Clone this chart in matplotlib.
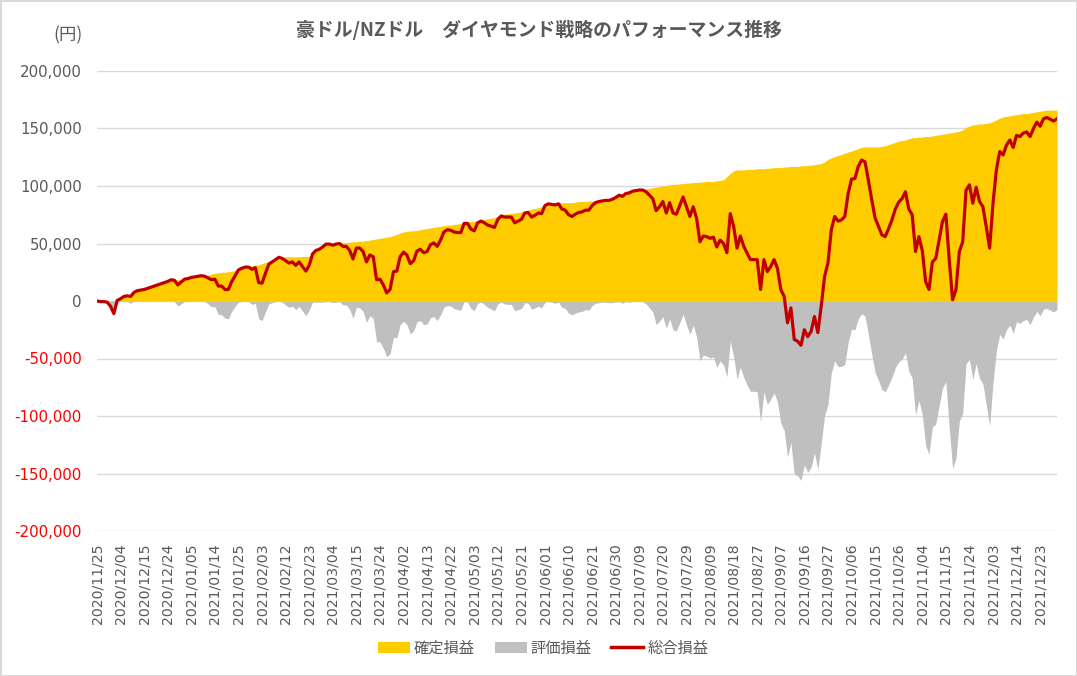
import numpy as np
import matplotlib
matplotlib.use("Agg")
import matplotlib.pyplot as plt
from matplotlib.patches import Patch
from matplotlib.lines import Line2D

JP = ['Noto Sans CJK JP', 'DejaVu Sans']
plt.rcParams['font.family'] = JP

title = "豪ドル/NZドル\u3000ダイヤモンド戦略のパフォーマンス推移"
unit_label = "(円)"
series_names = ["確定損益", "評価損益", "総合損益"]

tick_labels = ["2020/11/25", "2020/12/04", "2020/12/15", "2020/12/24", "2021/01/05",
               "2021/01/14", "2021/01/25", "2021/02/03", "2021/02/12", "2021/02/23",
               "2021/03/04", "2021/03/15", "2021/03/24", "2021/04/02", "2021/04/13",
               "2021/04/22", "2021/05/03", "2021/05/12", "2021/05/21", "2021/06/01",
               "2021/06/10", "2021/06/21", "2021/06/30", "2021/07/09", "2021/07/20",
               "2021/07/29", "2021/08/09", "2021/08/18", "2021/08/27", "2021/09/07",
               "2021/09/16", "2021/09/27", "2021/10/06", "2021/10/15", "2021/10/26",
               "2021/11/04", "2021/11/15", "2021/11/24", "2021/12/03", "2021/12/14",
               "2021/12/23"]

# 確定損益 (thousand yen), one value per trading day
confirmed_k = [
    0, 0, 0, 0, 0, 0, 1, 2.5, 4, 5,
    6, 7.5, 9, 9.5, 10, 11, 12, 13, 14, 15,
    16, 17, 18.5, 18.5, 18.5, 19, 19.5, 20, 20.5, 21,
    21.5, 22, 22, 22.5, 23.5, 24, 24.5, 25, 25, 25.5,
    26, 26.5, 28, 29, 29.5, 30, 30.5, 31, 31.5,
    32.5, 33.5, 34.5, 35.5, 36.5, 38, 38, 38.5, 38.5, 38.5,
    38.5, 38.5, 38.7, 38.7, 39, 42, 45, 46, 48, 50,
    50, 50, 50.5, 50.5, 51, 51, 51, 51.5, 51.5, 52,
    52, 52.5, 53, 53.5, 54, 54.5, 55, 55.5, 56, 57,
    58, 59, 60, 60.5, 61, 61, 61.5,
    62, 62.5, 63, 63.5, 64, 64.5, 65, 65.5, 66, 66,
    66.5, 67, 67.5, 68, 68.5, 69, 69.5, 70, 70.5, 71,
    71.5, 72, 72.5, 73.5, 75, 75.5, 76, 76, 76.5, 77,
    77.5, 78, 79, 80, 80.5, 81, 82, 84, 85, 85,
    85.5, 85.5, 85.5, 85.5, 85.5, 85.5, 86, 86.5,
    86.5, 86.5, 87, 87, 87.5, 88, 88, 88.5, 89, 90,
    91, 92.5, 93, 94, 95, 96, 96.5, 97, 97, 97.5,
    98, 98.5, 99, 99.5, 100, 100.5, 101, 101.5, 101.5, 102,
    102, 102.5, 102.5, 103, 103, 103.5, 103.5, 104, 104, 104,
    104.5, 105, 105.5, 108, 111, 113, 114,
    114, 114, 114.5, 114.5, 114.5, 115, 115, 115, 115.5, 115.5,
    116, 116, 116, 116.5, 116.5, 117, 117, 117, 117.5, 117.5,
    118, 118, 118.5, 119, 119.5, 121, 123, 124.5, 125.5, 126.5,
    127.5, 128.5, 129.5, 130.5, 131.5, 132.5, 133.5, 134, 134, 134,
    134, 134, 134.5, 135, 136, 137, 138, 139,
    139.5, 140, 141, 142, 142, 142.5, 142.5, 143, 143, 143.5,
    144, 144.5, 145, 145.5, 146, 146.5, 147, 147.5, 149, 151,
    152, 153, 153.5, 154, 154, 154.5, 155, 156, 157.5, 159,
    160, 160.5, 161, 161.5, 162, 162.5, 163, 163, 163.5, 164,
    164.5, 165, 165.5, 166, 166, 166, 166,
]

# 総合損益 (thousand yen)
total_k = [
    0, -0.5, -0.5, -1, -4.5, -11, 0.5, 2, 4, 4.5,
    4, 7.5, 9, 9.5, 10, 11, 12, 13, 14, 15,
    16, 17, 18.5, 18, 14, 16.5, 19, 19.5, 20.5, 21,
    21.5, 22, 21.5, 20, 18.5, 19, 13, 13, 10, 10,
    17, 22, 27, 28.5, 29.5, 29.5, 27.5, 29, 16,
    15.5, 24, 32, 34, 36, 38, 37, 35, 33, 34,
    31, 34, 30, 26, 31, 41, 44, 45, 47, 49.5,
    49.5, 48.5, 49.5, 50, 47.5, 47.5, 44, 36.5, 46, 46,
    43, 34, 40, 38.5, 18.5, 19, 14, 7, 10, 25.5,
    26, 38.5, 42.5, 40, 32.5, 35, 43.5,
    45, 42, 43, 49, 50.5, 47.5, 53, 60, 62, 61.5,
    60, 59.5, 59.5, 67.5, 67.5, 62.5, 61, 68, 69.5, 68,
    66, 65, 64, 71, 74, 73, 73, 73, 68, 69.5,
    71, 76.5, 77, 73, 74.5, 76.5, 76, 83, 84.5, 84,
    83.5, 84.5, 80, 79, 75, 73.5, 75.5, 77,
    77.5, 79, 79, 83, 85.5, 86.5, 87, 87.5, 87.5, 88.5,
    90, 92, 91, 93.5, 94, 95.5, 96, 96.5, 96.5, 95,
    92, 89, 78.5, 82, 86.5, 76.5, 85.5, 76.5, 75.5, 83,
    90.5, 82, 73.5, 82, 72, 51.5, 56.5, 56, 54.5, 55.5,
    47, 53, 50, 42, 76, 65, 46,
    56.5, 47.5, 41.5, 36, 36, 36, 10, 36, 25.5, 30,
    36, 28.5, 10, 4, -19, -6, -33.5, -35, -38.5, -25,
    -31, -26.5, -13.5, -27.5, -4.5, 21.5, 33, 62, 73.5, 69.5,
    70.5, 73.5, 93.5, 106, 106.5, 117, 122.5, 121, 105, 88,
    72, 65, 57.5, 56, 63, 70.5, 80, 86,
    89, 95, 80, 75, 43, 56, 44, 17, 10, 34,
    37, 53, 69, 75.5, 36, 1, 10, 43, 51.5, 96.5,
    101, 85, 99, 86.5, 82, 64.5, 46, 85, 114, 130,
    127, 135.5, 140, 133.5, 144, 143, 146, 147, 143, 150,
    155.5, 152, 158.5, 159.5, 158, 156.5, 158.5,
]

y_ticks = [-200000, -150000, -100000, -50000, 0, 50000, 100000, 150000, 200000]

confirmed = np.array(confirmed_k) * 1000.0
total = np.array(total_k) * 1000.0
unrealized = np.minimum(total - confirmed, 0)   # 評価損益
x = np.arange(len(confirmed))

W, H = 1077, 676
fig = plt.figure(figsize=(W / 100, H / 100), dpi=100)
fig.patch.set_facecolor('white')
fig.patch.set_edgecolor('#D9D9D9')
fig.patch.set_linewidth(2)

ax = fig.add_axes([97 / W, 1 - 531 / H, 960 / W, 460 / H])
ax.fill_between(x, 0, confirmed, color='#FFCC00', lw=0, zorder=2)
ax.fill_between(x, 0, unrealized, color='#BFBFBF', lw=0, zorder=3)
ax.plot(x, total, color='#C00000', lw=2.3, solid_joinstyle='round', zorder=4)

ax.set_xlim(0, len(x) - 1)
ax.set_ylim(y_ticks[0], y_ticks[-1])
ax.set_yticks(y_ticks, labels=[f"{v:,}" for v in y_ticks])
ax.grid(axis='y', color='#D9D9D9', lw=1)
ax.set_axisbelow(True)
for s in ax.spines.values():
    s.set_visible(False)
ax.tick_params(axis='y', length=0, pad=11)
for lab, v in zip(ax.get_yticklabels(), y_ticks):
    lab.set_family('DejaVu Sans')
    lab.set_fontsize(10.8)
    lab.set_color('#FF0000' if v < 0 else '#595959')

ax.set_xticks(x[::7][:len(tick_labels)], labels=tick_labels)
ax.tick_params(axis='x', length=0, pad=9)
for lab in ax.get_xticklabels():
    lab.set_rotation(90)
    lab.set_family('DejaVu Sans')
    lab.set_fontsize(10.2)
    lab.set_color('#595959')

fig.text(539 / W, 1 - 30 / H, title, ha='center', va='center',
         fontsize=13.6, fontweight='bold', color='#595959')
fig.text(68 / W, 1 - 35 / H, unit_label, ha='center', va='center',
         fontsize=12.5, color='#595959')

handles = [Patch(facecolor='#FFCC00', edgecolor='none'),
           Patch(facecolor='#BFBFBF', edgecolor='none'),
           Line2D([], [], color='#C00000', lw=2.5)]
fig.legend(handles, series_names, loc='center', bbox_to_anchor=(543 / W, 1 - 648 / H),
           ncol=3, frameon=False, fontsize=11, handlelength=2.1, handletextpad=0.25,
           columnspacing=1.3, labelcolor='#595959')

fig.savefig('out.png', dpi=100, facecolor=fig.get_facecolor(), edgecolor=fig.get_edgecolor())
